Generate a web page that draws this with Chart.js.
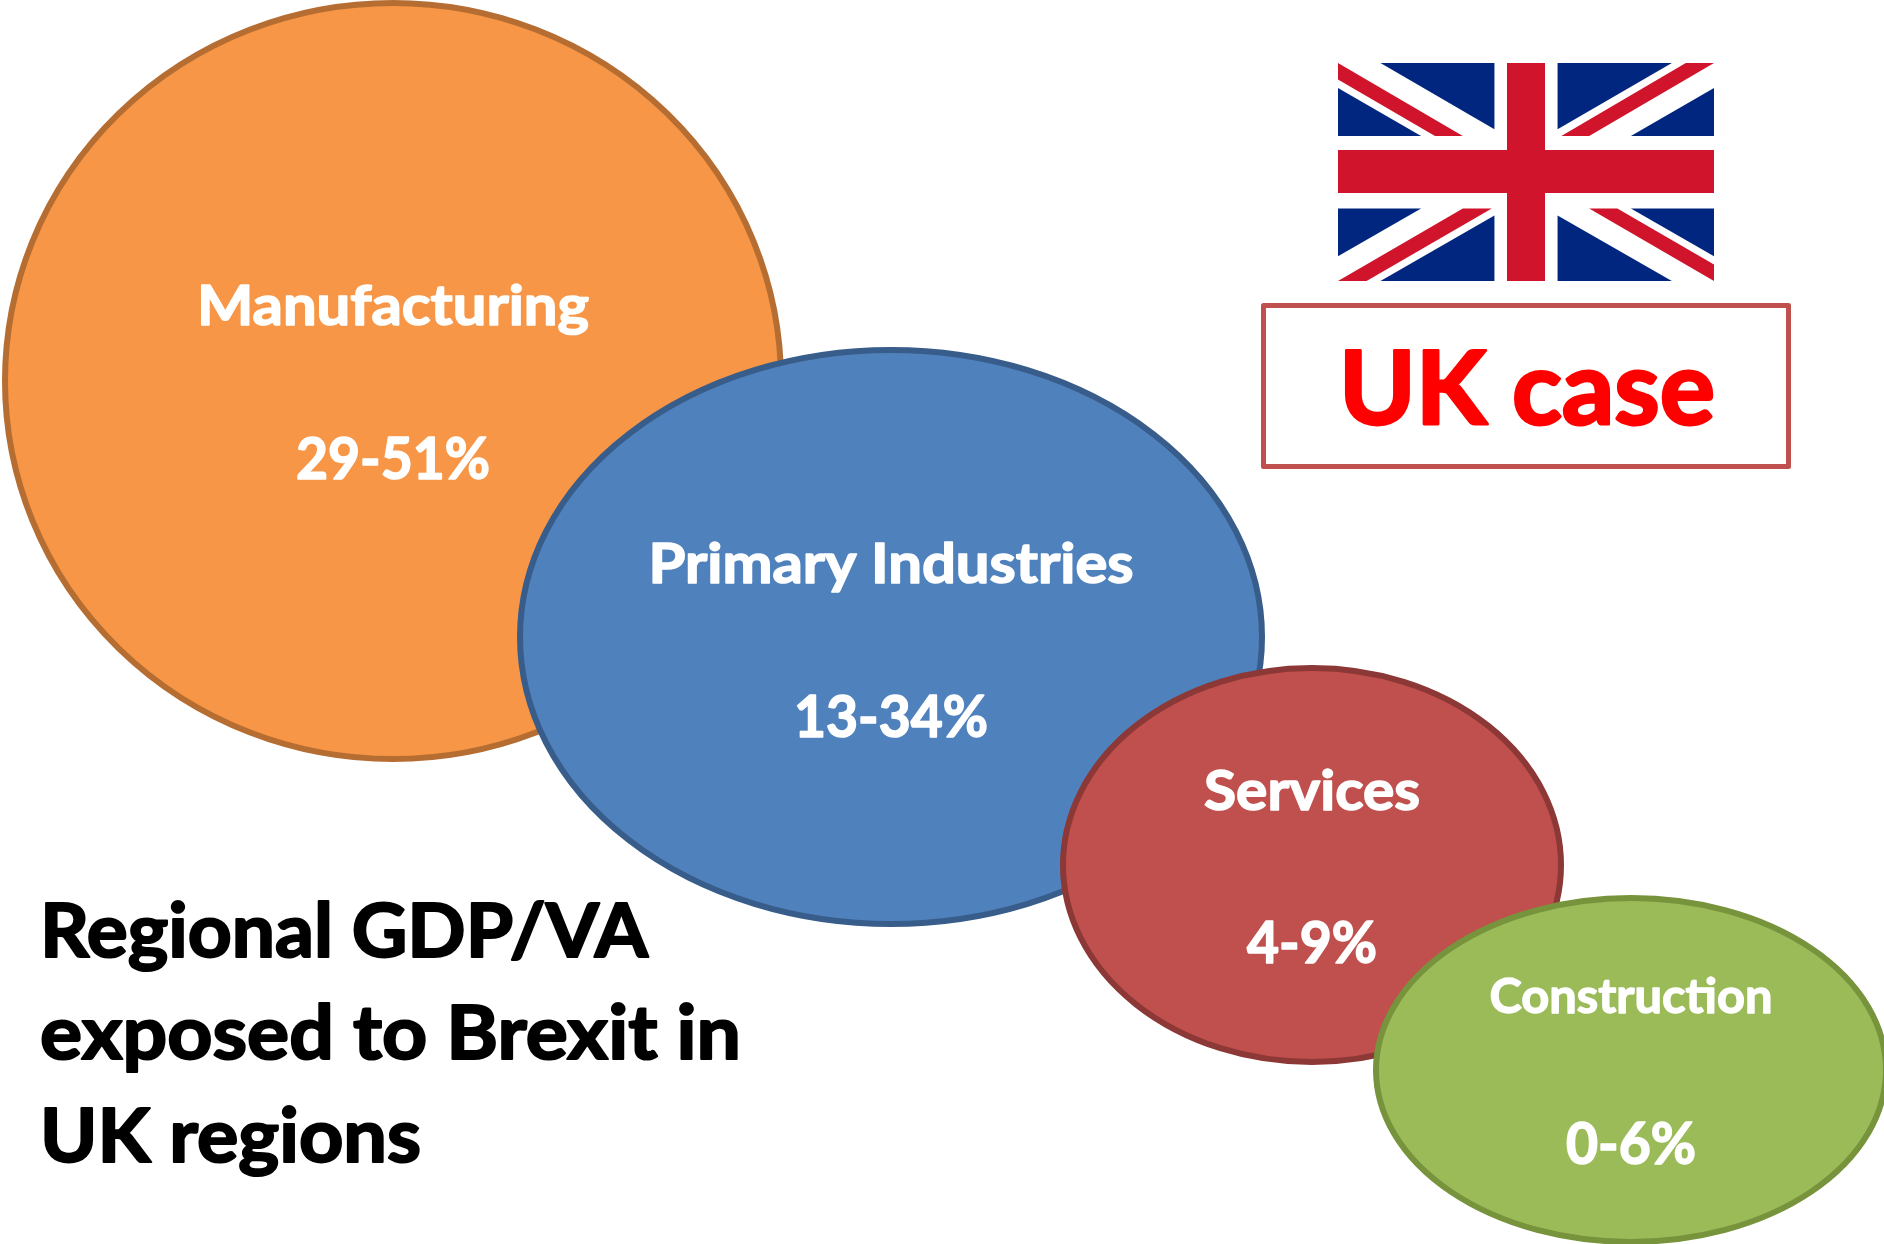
<!DOCTYPE html>
<html>
<head>
<meta charset="utf-8">
<title>Regional GDP/VA exposed to Brexit in UK regions</title>
<script src="https://cdn.jsdelivr.net/npm/chart.js@4/dist/chart.umd.js"></script>
<style>
  html, body { margin: 0; padding: 0; background: #ffffff; }
  canvas { display: block; }
</style>
</head>
<body>
<canvas id="chart" width="1884" height="1244"></canvas>
<script>
// Sector exposure ranges, in percent of regional GDP/VA
const sectors = ['Manufacturing', 'Primary Industries', 'Services', 'Construction'];
const lowShare = [29, 13, 4, 0];
const highShare = [51, 34, 9, 6];
const titleLines = ['Regional GDP/VA', 'exposed to Brexit in', 'UK regions'];
const caseLabel = 'UK case';

// Layout of the ovals on a page-sized coordinate system
const ovalX = [393, 891, 1312, 1631];
const ovalY = [381, 637, 865, 1070];
const ovalRx = [388, 371, 249, 255];
const ovalRy = [378, 287, 197, 172];
const ovalFill = ['#F79646', '#4F81BD', '#C0504D', '#9BBB59'];
const ovalEdge = ['#B66D31', '#385D8A', '#8C3836', '#77933C'];

// Baselines, sizes and fitted widths of the two lines in each oval
const nameBase = [325, 583, 810, 1013];
const nameSize = [56, 56, 56, 47];
const nameWidth = [392, 485, 216, 283];
const rangeBase = [479, 737, 963, 1164];
const rangeSize = [57, 57, 57, 58];
const rangeWidth = [194, 194, 130, 130];

function ovalImage(i) {
  const stroke = 6;
  const c = document.createElement('canvas');
  c.width = 2 * (ovalRx[i] + stroke);
  c.height = 2 * (ovalRy[i] + stroke);
  const g = c.getContext('2d');
  g.beginPath();
  g.ellipse(c.width / 2, c.height / 2, ovalRx[i], ovalRy[i], 0, 0, Math.PI * 2);
  g.fillStyle = ovalFill[i];
  g.fill();
  g.lineWidth = stroke;
  g.strokeStyle = ovalEdge[i];
  g.stroke();
  return c;
}

// Heavy text fitted horizontally to a target width
function fittedText(ctx, text, anchorX, baseline, size, width, color, align) {
  ctx.save();
  ctx.font = 'bold ' + size + 'px Lato, "Liberation Sans", sans-serif';
  ctx.fillStyle = color;
  ctx.strokeStyle = color;
  ctx.lineJoin = 'round';
  ctx.lineWidth = size * 0.028;
  ctx.textBaseline = 'alphabetic';
  const scale = width / ctx.measureText(text).width;
  ctx.translate(anchorX, baseline);
  ctx.scale(scale, 1);
  ctx.textAlign = align;
  ctx.fillText(text, 0, 0);
  ctx.strokeText(text, 0, 0);
  ctx.restore();
}

// Union flag panels, as fractions of the flag's width and height
const flagBlue = [
  [[0.113, 0], [0.416, 0], [0.416, 0.304]],
  [[0, 0.115], [0.221, 0.335], [0, 0.335]],
  [[0.584, 0], [0.888, 0], [0.584, 0.304]],
  [[1, 0.115], [1, 0.335], [0.779, 0.335]],
  [[0, 0.668], [0.221, 0.668], [0, 0.887]],
  [[0.416, 0.699], [0.416, 1], [0.113, 1]],
  [[0.779, 0.668], [1, 0.668], [1, 0.887]],
  [[0.584, 0.699], [0.888, 1], [0.584, 1]]
];
const flagRed = [
  [[0, 0], [0.332, 0.335], [0.258, 0.335], [0, 0.076]],
  [[0.925, 0], [1, 0], [0.668, 0.335], [0.594, 0.335]],
  [[0.332, 0.668], [0.409, 0.668], [0.076, 1], [0, 1]],
  [[0.668, 0.668], [0.743, 0.668], [1, 0.924], [1, 1]]
];

function drawFlag(ctx, x, y, w, h) {
  const panel = (points, color) => {
    ctx.beginPath();
    points.forEach((p, k) => {
      const px = x + p[0] * w, py = y + p[1] * h;
      if (k === 0) ctx.moveTo(px, py); else ctx.lineTo(px, py);
    });
    ctx.closePath();
    ctx.fillStyle = color;
    ctx.fill();
  };
  flagBlue.forEach(p => panel(p, '#01267F'));
  flagRed.forEach(p => panel(p, '#CF142B'));
  ctx.fillStyle = '#CF142B';
  ctx.fillRect(1507, y, 38, h);
  ctx.fillRect(x, 150, w, 43);
}

const annotations = {
  id: 'annotations',
  afterDraw(chart) {
    const ctx = chart.ctx;
    sectors.forEach((name, i) => {
      const cx = chart.scales.x.getPixelForValue(ovalX[i]);
      fittedText(ctx, name, cx, nameBase[i], nameSize[i], nameWidth[i], '#ffffff', 'center');
      const range = lowShare[i] + '-' + highShare[i] + '%';
      fittedText(ctx, range, cx, rangeBase[i], rangeSize[i], rangeWidth[i], '#ffffff', 'center');
    });

    const titleBase = [957, 1059, 1162];
    const titleWidth = [608, 701, 381];
    titleLines.forEach((line, i) => {
      fittedText(ctx, line, 40, titleBase[i], 75, titleWidth[i], '#000000', 'left');
    });

    drawFlag(ctx, 1338, 63, 376, 218);

    ctx.save();
    ctx.lineWidth = 5;
    ctx.lineJoin = 'round';
    ctx.strokeStyle = '#C0504D';
    ctx.strokeRect(1263.5, 305.5, 525, 161);
    ctx.restore();
    fittedText(ctx, caseLabel, 1527, 424, 102, 376, '#FF0000', 'center');
  }
};

new Chart(document.getElementById('chart'), {
  type: 'scatter',
  data: {
    datasets: sectors.map((name, i) => ({
      label: name,
      data: [{ x: ovalX[i], y: ovalY[i] }],
      pointStyle: ovalImage(i),
      pointRadius: 10,
      order: sectors.length - i
    }))
  },
  options: {
    responsive: false,
    animation: false,
    layout: { padding: 0, autoPadding: false },
    events: [],
    plugins: {
      legend: { display: false },
      title: { display: false },
      tooltip: { enabled: false }
    },
    scales: {
      x: { type: 'linear', min: 0, max: 1884, display: false },
      y: { type: 'linear', min: 0, max: 1244, reverse: true, display: false }
    }
  },
  plugins: [annotations]
});
</script>
</body>
</html>
